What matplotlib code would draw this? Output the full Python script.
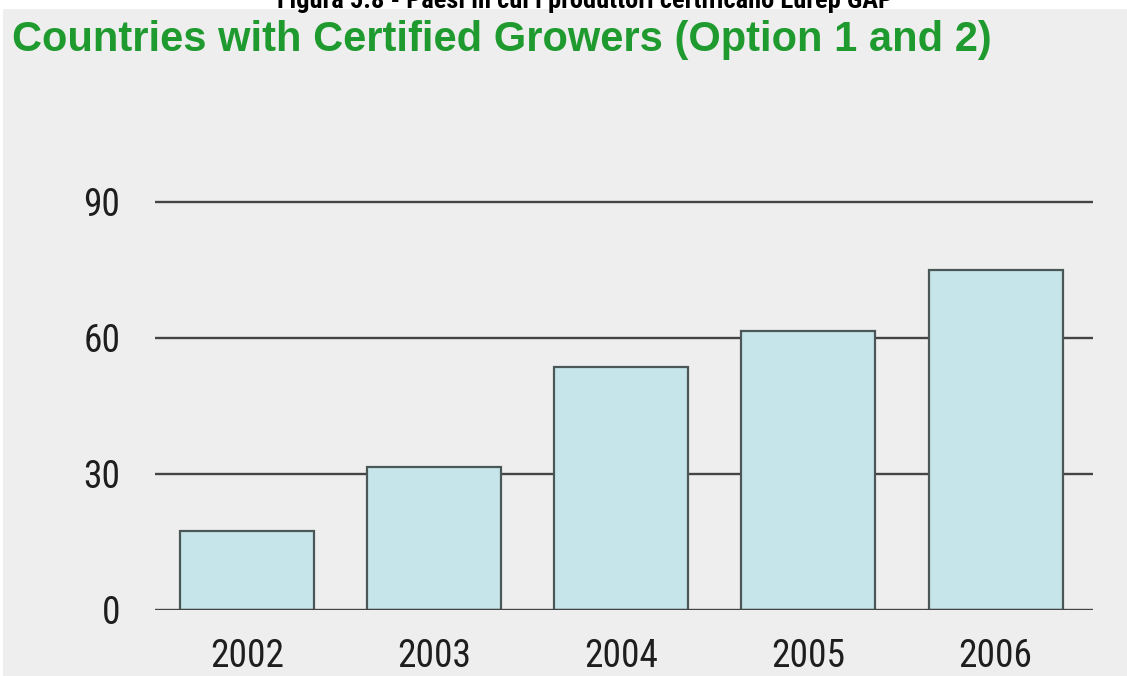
import matplotlib
matplotlib.use("Agg")
import matplotlib.pyplot as plt
from matplotlib import font_manager
from matplotlib.patches import Rectangle

# data
years = ["2002", "2003", "2004", "2005", "2006"]
countries = [17.5, 31.5, 53.5, 61.5, 75]
y_ticks = [0, 30, 60, 90]

title = "Countries with Certified Growers (Option 1 and 2)"
caption = "Figura 5.8 - Paesi in cui i produttori certificano Eurep GAP"


def pick_font(candidates):
    names = {f.name for f in font_manager.fontManager.ttflist}
    for c in candidates:
        if c in names:
            return c
    return "DejaVu Sans"


narrow = pick_font(["Liberation Sans Narrow", "Roboto Condensed", "Open Sans Condensed", "Liberation Sans"])
title_font = pick_font(["Liberation Sans", "Arial", "DejaVu Sans"])

W, H, DPI = 1127, 676, 100
fig = plt.figure(figsize=(W / DPI, H / DPI), dpi=DPI)
fig.patch.set_facecolor("white")

# grey panel under everything except a thin white strip at the top
fig.patches.append(Rectangle((3 / W, 0), 1, 1 - 9 / H, transform=fig.transFigure,
                             facecolor="#eeeeee", edgecolor="none", zorder=-10))

# axes: x from 155 to 1093 px, y=0 at 610 px, 4.533 px per unit
ymax = 92
px_per_unit = 408 / 90
ax_h = ymax * px_per_unit
ax = fig.add_axes([155 / W, (H - 610) / H, (1093 - 155) / W, ax_h / H])
ax.set_facecolor("none")

x = list(range(len(years)))
ax.bar(x, countries, width=0.716, color="#c6e5ea", edgecolor="#4b5657",
       linewidth=1.6, zorder=2)

for t in y_ticks:
    ax.axhline(t, color="#444444", linewidth=1.7, zorder=1 if t else 3)

ax.set_xlim(-0.492, 4.521)
ax.set_ylim(0, ymax)
ax.set_xticks(x)
ax.set_xticklabels(years, fontsize=27, family=narrow, color="#1e1e1e")
ax.set_yticks(y_ticks)
ax.set_yticklabels([str(t) for t in y_ticks], fontsize=27, family=narrow,
                   color="#1e1e1e")
ax.tick_params(axis="both", length=0)
ax.tick_params(axis="y", pad=25)
ax.tick_params(axis="x", pad=20)
for s in ax.spines.values():
    s.set_visible(False)

fig.text(12 / W, 1 - 51 / H, title, fontsize=30, fontweight="bold",
         family=title_font, color="#1f9a2e", ha="left", va="baseline")

# caption at the very top, partly cut off like in the source scan
fig.text(585 / W, 1 - 8 / H, caption, fontsize=19, fontweight="bold",
         family=narrow, color="black", ha="center", va="baseline")

fig.savefig("out.png", dpi=DPI, facecolor=fig.get_facecolor())
